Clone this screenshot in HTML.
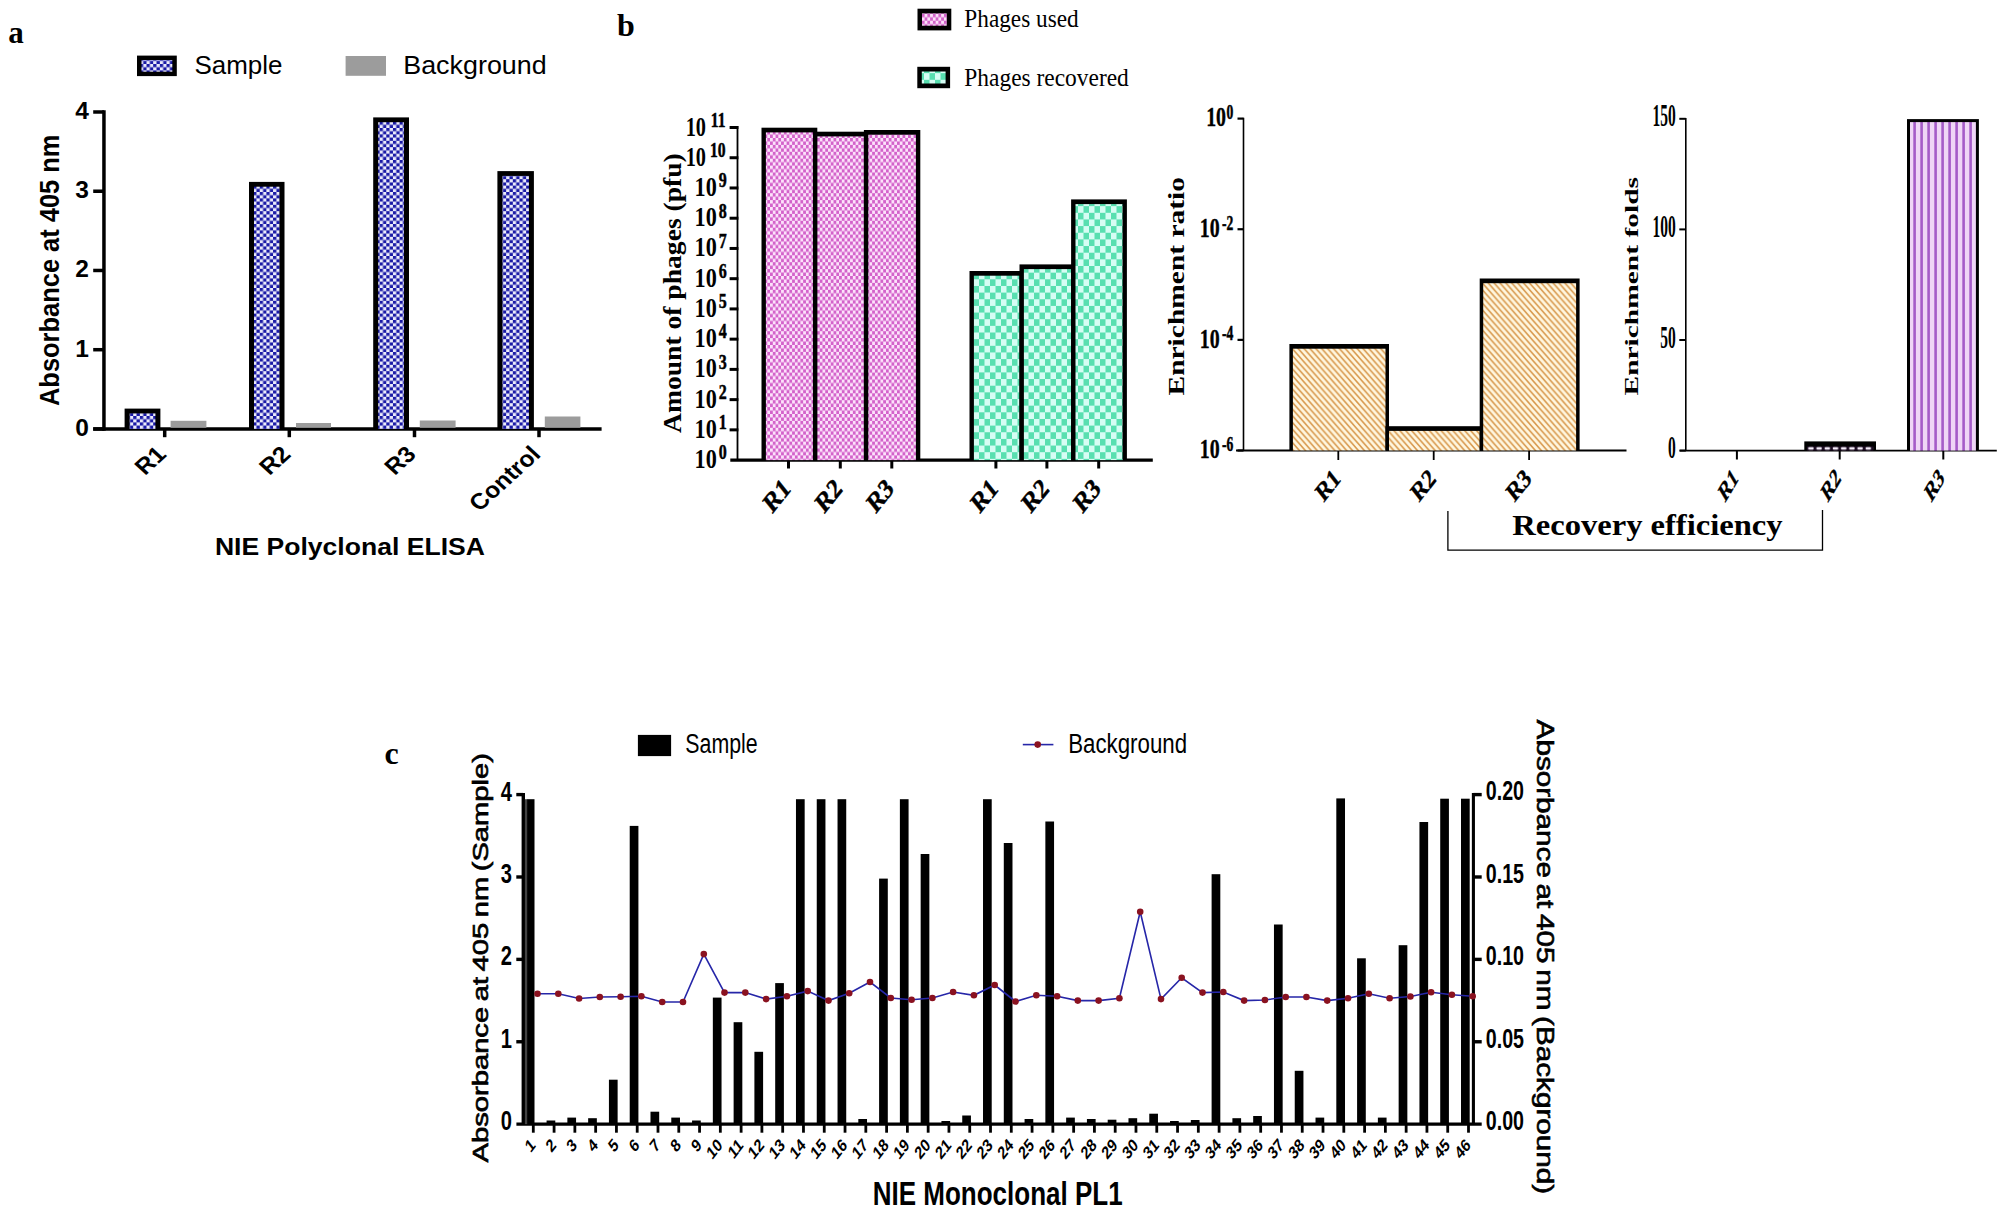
<!DOCTYPE html>
<html lang="en"><head><meta charset="utf-8"><title>Figure</title>
<style>
html,body{margin:0;padding:0;background:#fff;}
body{width:2006px;height:1216px;overflow:hidden;}
svg{display:block;}
text{white-space:pre;}
</style></head><body>
<svg width="2006" height="1216" viewBox="0 0 2006 1216">
<defs>
<pattern id="pblue" width="6.66" height="6.4" patternUnits="userSpaceOnUse">
<rect width="6.66" height="6.4" fill="#ececfb"/>
<rect x="0" y="0" width="3.33" height="3.2" fill="#1a1aa6"/>
<rect x="3.33" y="3.2" width="3.33" height="3.2" fill="#1a1aa6"/>
</pattern>
<pattern id="ppink" width="5.52" height="6.9" patternUnits="userSpaceOnUse">
<rect width="5.52" height="6.9" fill="#fce2fb"/>
<rect x="0" y="0" width="2.76" height="3.45" fill="#d362ca"/>
<rect x="2.76" y="3.45" width="2.76" height="3.45" fill="#d362ca"/>
</pattern>
<pattern id="pgreen" width="11" height="13.3" patternUnits="userSpaceOnUse">
<rect width="11" height="13.3" fill="#d6fdf4"/>
<rect x="0" y="0" width="5.5" height="6.65" fill="#58dfb0"/>
<rect x="5.5" y="6.65" width="5.5" height="6.65" fill="#58dfb0"/>
</pattern>
<pattern id="ptan" width="5.9" height="6.7" patternUnits="userSpaceOnUse">
<rect width="5.9" height="6.7" fill="#fff7e0"/>
<path d="M-5.9,-6.7 L11.8,13.4 M-5.9,0 L5.9,13.4 M0,-6.7 L11.8,6.7" stroke="#d8984c" stroke-width="1.6" fill="none"/>
</pattern>
<pattern id="ppurple" width="7" height="10" patternUnits="userSpaceOnUse">
<rect width="7" height="10" fill="#efd6f6"/>
<rect x="2.3" y="0" width="2.6" height="10" fill="#a55cc8"/>
</pattern>
<pattern id="ppurple2" width="8.2" height="4" patternUnits="userSpaceOnUse" x="1807.5" y="446.4">
<rect width="8.2" height="4" fill="#1a0a20"/>
<rect x="0.6" y="0.8" width="5.6" height="2.4" rx="1.2" fill="#f8effc"/>
</pattern>
</defs>
<rect width="2006" height="1216" fill="#ffffff"/>

<g id="panel-a">
<text transform="translate(8.30,42.60)" font-family='"Liberation Serif", "Times New Roman", serif' font-size="31" font-weight="bold">a</text>
<rect x="137.00" y="55.60" width="39.80" height="20.50" fill="#000"/>
<rect x="141.50" y="60.00" width="30.80" height="11.70" fill="url(#pblue)"/>
<text transform="translate(194.40,73.60)" font-family='"Liberation Sans", Arial, sans-serif' font-size="26" font-weight="normal" textLength="88.0" lengthAdjust="spacingAndGlyphs">Sample</text>
<rect x="345.60" y="56.00" width="40.40" height="19.80" fill="#9c9c9c"/>
<text transform="translate(403.20,73.60)" font-family='"Liberation Sans", Arial, sans-serif' font-size="26" font-weight="normal" textLength="143.5" lengthAdjust="spacingAndGlyphs">Background</text>
<line x1="103.95" y1="110.25" x2="103.95" y2="430.70" stroke="#000" stroke-width="3.5" stroke-linecap="butt"/>
<line x1="93.20" y1="428.95" x2="601.60" y2="428.95" stroke="#000" stroke-width="3.5" stroke-linecap="butt"/>
<line x1="93.20" y1="428.95" x2="103.95" y2="428.95" stroke="#000" stroke-width="3.5" stroke-linecap="butt"/>
<text transform="translate(88.90,435.85)" font-family='"Liberation Sans", Arial, sans-serif' font-size="24.5" font-weight="bold" text-anchor="end">0</text>
<line x1="93.20" y1="349.71" x2="103.95" y2="349.71" stroke="#000" stroke-width="3.5" stroke-linecap="butt"/>
<text transform="translate(88.90,356.61)" font-family='"Liberation Sans", Arial, sans-serif' font-size="24.5" font-weight="bold" text-anchor="end">1</text>
<line x1="93.20" y1="270.47" x2="103.95" y2="270.47" stroke="#000" stroke-width="3.5" stroke-linecap="butt"/>
<text transform="translate(88.90,277.37)" font-family='"Liberation Sans", Arial, sans-serif' font-size="24.5" font-weight="bold" text-anchor="end">2</text>
<line x1="93.20" y1="191.23" x2="103.95" y2="191.23" stroke="#000" stroke-width="3.5" stroke-linecap="butt"/>
<text transform="translate(88.90,198.13)" font-family='"Liberation Sans", Arial, sans-serif' font-size="24.5" font-weight="bold" text-anchor="end">3</text>
<line x1="93.20" y1="111.99" x2="103.95" y2="111.99" stroke="#000" stroke-width="3.5" stroke-linecap="butt"/>
<text transform="translate(88.90,118.89)" font-family='"Liberation Sans", Arial, sans-serif' font-size="24.5" font-weight="bold" text-anchor="end">4</text>
<line x1="164.70" y1="428.95" x2="164.70" y2="437.20" stroke="#000" stroke-width="3.5" stroke-linecap="butt"/>
<line x1="289.30" y1="428.95" x2="289.30" y2="437.20" stroke="#000" stroke-width="3.5" stroke-linecap="butt"/>
<line x1="414.50" y1="428.95" x2="414.50" y2="437.20" stroke="#000" stroke-width="3.5" stroke-linecap="butt"/>
<line x1="539.00" y1="428.95" x2="539.00" y2="437.20" stroke="#000" stroke-width="3.5" stroke-linecap="butt"/>
<text transform="translate(59.40,406.00) rotate(-90)" font-family='"Liberation Sans", Arial, sans-serif' font-size="28" font-weight="bold" textLength="271.5" lengthAdjust="spacingAndGlyphs">Absorbance at 405 nm</text>
<rect x="124.60" y="408.60" width="35.80" height="20.35" fill="#000"/>
<rect x="129.60" y="413.40" width="25.80" height="15.55" fill="url(#pblue)"/>
<rect x="249.00" y="181.90" width="35.50" height="247.05" fill="#000"/>
<rect x="254.00" y="186.70" width="25.50" height="242.25" fill="url(#pblue)"/>
<rect x="373.20" y="117.40" width="35.80" height="311.55" fill="#000"/>
<rect x="378.20" y="122.20" width="25.80" height="306.75" fill="url(#pblue)"/>
<rect x="497.40" y="171.10" width="36.50" height="257.85" fill="#000"/>
<rect x="502.40" y="175.90" width="26.50" height="253.05" fill="url(#pblue)"/>
<rect x="170.60" y="420.80" width="35.80" height="6.95" fill="#9c9c9c"/>
<rect x="296.00" y="423.00" width="35.00" height="4.75" fill="#9c9c9c"/>
<rect x="419.80" y="420.50" width="35.80" height="7.25" fill="#9c9c9c"/>
<rect x="544.80" y="416.50" width="35.60" height="11.25" fill="#9c9c9c"/>
<text transform="translate(167.50,455.60) scale(1.1,1) rotate(-45)" font-family='"Liberation Sans", Arial, sans-serif' font-size="22.6" font-weight="bold" text-anchor="end">R1</text>
<text transform="translate(292.10,455.60) scale(1.1,1) rotate(-45)" font-family='"Liberation Sans", Arial, sans-serif' font-size="22.6" font-weight="bold" text-anchor="end">R2</text>
<text transform="translate(417.30,455.60) scale(1.1,1) rotate(-45)" font-family='"Liberation Sans", Arial, sans-serif' font-size="22.6" font-weight="bold" text-anchor="end">R3</text>
<text transform="translate(541.80,455.60) scale(1.1,1) rotate(-45)" font-family='"Liberation Sans", Arial, sans-serif' font-size="22.6" font-weight="bold" text-anchor="end">Control</text>
<text transform="translate(214.90,555.20)" font-family='"Liberation Sans", Arial, sans-serif' font-size="24.3" font-weight="bold" textLength="270.0" lengthAdjust="spacingAndGlyphs">NIE Polyclonal ELISA</text>
</g>
<g id="panel-b">
<text transform="translate(617.00,35.90)" font-family='"Liberation Serif", "Times New Roman", serif' font-size="32" font-weight="bold">b</text>
<rect x="917.50" y="8.70" width="33.80" height="21.70" fill="#000"/>
<rect x="922.00" y="13.40" width="24.80" height="12.30" fill="url(#ppink)"/>
<rect x="917.30" y="66.80" width="32.80" height="21.40" fill="#000"/>
<rect x="921.80" y="71.50" width="23.80" height="12.00" fill="url(#pgreen)"/>
<text transform="translate(964.30,26.90)" font-family='"Liberation Serif", "Times New Roman", serif' font-size="25.5" font-weight="normal" textLength="114.4" lengthAdjust="spacingAndGlyphs">Phages used</text>
<text transform="translate(964.30,86.00)" font-family='"Liberation Serif", "Times New Roman", serif' font-size="25.5" font-weight="normal" textLength="164.5" lengthAdjust="spacingAndGlyphs">Phages recovered</text>
<line x1="737.50" y1="126.00" x2="737.50" y2="460.10" stroke="#000" stroke-width="1.8" stroke-linecap="butt"/>
<line x1="730.30" y1="460.10" x2="1152.80" y2="460.10" stroke="#000" stroke-width="3.3" stroke-linecap="butt"/>
<text transform="translate(726.70,459.40) scale(0.8,1)" font-family='"Liberation Serif", "Times New Roman", serif' font-size="20" font-weight="bold" text-anchor="end" stroke="#000" stroke-width="0.5">0</text>
<text transform="translate(716.80,468.10) scale(0.81,1)" font-family='"Liberation Serif", "Times New Roman", serif' font-size="27.4" font-weight="bold" text-anchor="end">10</text>
<line x1="729.60" y1="429.86" x2="738.40" y2="429.86" stroke="#000" stroke-width="3.0" stroke-linecap="butt"/>
<text transform="translate(726.70,429.16) scale(0.8,1)" font-family='"Liberation Serif", "Times New Roman", serif' font-size="20" font-weight="bold" text-anchor="end" stroke="#000" stroke-width="0.5">1</text>
<text transform="translate(716.80,437.86) scale(0.81,1)" font-family='"Liberation Serif", "Times New Roman", serif' font-size="27.4" font-weight="bold" text-anchor="end">10</text>
<line x1="729.60" y1="399.63" x2="738.40" y2="399.63" stroke="#000" stroke-width="3.0" stroke-linecap="butt"/>
<text transform="translate(726.70,398.93) scale(0.8,1)" font-family='"Liberation Serif", "Times New Roman", serif' font-size="20" font-weight="bold" text-anchor="end" stroke="#000" stroke-width="0.5">2</text>
<text transform="translate(716.80,407.63) scale(0.81,1)" font-family='"Liberation Serif", "Times New Roman", serif' font-size="27.4" font-weight="bold" text-anchor="end">10</text>
<line x1="729.60" y1="369.39" x2="738.40" y2="369.39" stroke="#000" stroke-width="3.0" stroke-linecap="butt"/>
<text transform="translate(726.70,368.69) scale(0.8,1)" font-family='"Liberation Serif", "Times New Roman", serif' font-size="20" font-weight="bold" text-anchor="end" stroke="#000" stroke-width="0.5">3</text>
<text transform="translate(716.80,377.39) scale(0.81,1)" font-family='"Liberation Serif", "Times New Roman", serif' font-size="27.4" font-weight="bold" text-anchor="end">10</text>
<line x1="729.60" y1="339.15" x2="738.40" y2="339.15" stroke="#000" stroke-width="3.0" stroke-linecap="butt"/>
<text transform="translate(726.70,338.45) scale(0.8,1)" font-family='"Liberation Serif", "Times New Roman", serif' font-size="20" font-weight="bold" text-anchor="end" stroke="#000" stroke-width="0.5">4</text>
<text transform="translate(716.80,347.15) scale(0.81,1)" font-family='"Liberation Serif", "Times New Roman", serif' font-size="27.4" font-weight="bold" text-anchor="end">10</text>
<line x1="729.60" y1="308.92" x2="738.40" y2="308.92" stroke="#000" stroke-width="3.0" stroke-linecap="butt"/>
<text transform="translate(726.70,308.22) scale(0.8,1)" font-family='"Liberation Serif", "Times New Roman", serif' font-size="20" font-weight="bold" text-anchor="end" stroke="#000" stroke-width="0.5">5</text>
<text transform="translate(716.80,316.92) scale(0.81,1)" font-family='"Liberation Serif", "Times New Roman", serif' font-size="27.4" font-weight="bold" text-anchor="end">10</text>
<line x1="729.60" y1="278.68" x2="738.40" y2="278.68" stroke="#000" stroke-width="3.0" stroke-linecap="butt"/>
<text transform="translate(726.70,277.98) scale(0.8,1)" font-family='"Liberation Serif", "Times New Roman", serif' font-size="20" font-weight="bold" text-anchor="end" stroke="#000" stroke-width="0.5">6</text>
<text transform="translate(716.80,286.68) scale(0.81,1)" font-family='"Liberation Serif", "Times New Roman", serif' font-size="27.4" font-weight="bold" text-anchor="end">10</text>
<line x1="729.60" y1="248.45" x2="738.40" y2="248.45" stroke="#000" stroke-width="3.0" stroke-linecap="butt"/>
<text transform="translate(726.70,247.75) scale(0.8,1)" font-family='"Liberation Serif", "Times New Roman", serif' font-size="20" font-weight="bold" text-anchor="end" stroke="#000" stroke-width="0.5">7</text>
<text transform="translate(716.80,256.45) scale(0.81,1)" font-family='"Liberation Serif", "Times New Roman", serif' font-size="27.4" font-weight="bold" text-anchor="end">10</text>
<line x1="729.60" y1="218.21" x2="738.40" y2="218.21" stroke="#000" stroke-width="3.0" stroke-linecap="butt"/>
<text transform="translate(726.70,217.51) scale(0.8,1)" font-family='"Liberation Serif", "Times New Roman", serif' font-size="20" font-weight="bold" text-anchor="end" stroke="#000" stroke-width="0.5">8</text>
<text transform="translate(716.80,226.21) scale(0.81,1)" font-family='"Liberation Serif", "Times New Roman", serif' font-size="27.4" font-weight="bold" text-anchor="end">10</text>
<line x1="729.60" y1="187.97" x2="738.40" y2="187.97" stroke="#000" stroke-width="3.0" stroke-linecap="butt"/>
<text transform="translate(726.70,187.27) scale(0.8,1)" font-family='"Liberation Serif", "Times New Roman", serif' font-size="20" font-weight="bold" text-anchor="end" stroke="#000" stroke-width="0.5">9</text>
<text transform="translate(716.80,195.97) scale(0.81,1)" font-family='"Liberation Serif", "Times New Roman", serif' font-size="27.4" font-weight="bold" text-anchor="end">10</text>
<line x1="729.60" y1="157.74" x2="738.40" y2="157.74" stroke="#000" stroke-width="3.0" stroke-linecap="butt"/>
<text transform="translate(725.50,157.04) scale(0.78,1)" font-family='"Liberation Serif", "Times New Roman", serif' font-size="20" font-weight="bold" text-anchor="end" stroke="#000" stroke-width="0.5">10</text>
<text transform="translate(706.00,165.74) scale(0.74,1)" font-family='"Liberation Serif", "Times New Roman", serif' font-size="27.4" font-weight="bold" text-anchor="end">10</text>
<line x1="729.60" y1="127.50" x2="738.40" y2="127.50" stroke="#000" stroke-width="3.0" stroke-linecap="butt"/>
<text transform="translate(725.50,126.80) scale(0.78,1)" font-family='"Liberation Serif", "Times New Roman", serif' font-size="20" font-weight="bold" text-anchor="end" stroke="#000" stroke-width="0.5">11</text>
<text transform="translate(706.00,135.50) scale(0.74,1)" font-family='"Liberation Serif", "Times New Roman", serif' font-size="27.4" font-weight="bold" text-anchor="end">10</text>
<text transform="translate(681.30,433.00) rotate(-90) scale(1,0.95)" font-family='"Liberation Serif", "Times New Roman", serif' font-size="26.2" font-weight="bold" textLength="279.8" lengthAdjust="spacingAndGlyphs">Amount of phages (pfu)</text>
<line x1="788.50" y1="460.10" x2="788.50" y2="468.50" stroke="#000" stroke-width="3.0" stroke-linecap="butt"/>
<line x1="840.30" y1="460.10" x2="840.30" y2="468.50" stroke="#000" stroke-width="3.0" stroke-linecap="butt"/>
<line x1="891.80" y1="460.10" x2="891.80" y2="468.50" stroke="#000" stroke-width="3.0" stroke-linecap="butt"/>
<line x1="995.90" y1="460.10" x2="995.90" y2="468.50" stroke="#000" stroke-width="3.0" stroke-linecap="butt"/>
<line x1="1046.90" y1="460.10" x2="1046.90" y2="468.50" stroke="#000" stroke-width="3.0" stroke-linecap="butt"/>
<line x1="1098.70" y1="460.10" x2="1098.70" y2="468.50" stroke="#000" stroke-width="3.0" stroke-linecap="butt"/>
<rect x="761.50" y="127.70" width="55.80" height="332.40" fill="#000"/>
<rect x="765.90" y="132.40" width="47.00" height="327.70" fill="url(#ppink)"/>
<rect x="813.00" y="131.70" width="55.30" height="328.40" fill="#000"/>
<rect x="817.40" y="136.40" width="46.50" height="323.70" fill="url(#ppink)"/>
<rect x="863.90" y="130.00" width="56.40" height="330.10" fill="#000"/>
<rect x="868.30" y="134.70" width="47.60" height="325.40" fill="url(#ppink)"/>
<rect x="969.50" y="271.00" width="54.30" height="189.10" fill="#000"/>
<rect x="973.90" y="275.70" width="45.50" height="184.40" fill="url(#pgreen)"/>
<rect x="1019.50" y="264.40" width="56.00" height="195.70" fill="#000"/>
<rect x="1023.90" y="269.10" width="47.20" height="191.00" fill="url(#pgreen)"/>
<rect x="1071.10" y="199.40" width="55.80" height="260.70" fill="#000"/>
<rect x="1075.50" y="204.10" width="47.00" height="256.00" fill="url(#pgreen)"/>
<text transform="translate(791.70,490.00) scale(0.8,1) rotate(-45)" font-family='"Liberation Serif", "Times New Roman", serif' font-size="28" font-weight="bold" text-anchor="end" stroke="#000" stroke-width="0.5">R1</text>
<text transform="translate(843.50,490.00) scale(0.8,1) rotate(-45)" font-family='"Liberation Serif", "Times New Roman", serif' font-size="28" font-weight="bold" text-anchor="end" stroke="#000" stroke-width="0.5">R2</text>
<text transform="translate(895.00,490.00) scale(0.8,1) rotate(-45)" font-family='"Liberation Serif", "Times New Roman", serif' font-size="28" font-weight="bold" text-anchor="end" stroke="#000" stroke-width="0.5">R3</text>
<text transform="translate(999.10,490.00) scale(0.8,1) rotate(-45)" font-family='"Liberation Serif", "Times New Roman", serif' font-size="28" font-weight="bold" text-anchor="end" stroke="#000" stroke-width="0.5">R1</text>
<text transform="translate(1050.10,490.00) scale(0.8,1) rotate(-45)" font-family='"Liberation Serif", "Times New Roman", serif' font-size="28" font-weight="bold" text-anchor="end" stroke="#000" stroke-width="0.5">R2</text>
<text transform="translate(1101.90,490.00) scale(0.8,1) rotate(-45)" font-family='"Liberation Serif", "Times New Roman", serif' font-size="28" font-weight="bold" text-anchor="end" stroke="#000" stroke-width="0.5">R3</text>
<line x1="1243.50" y1="117.80" x2="1243.50" y2="450.50" stroke="#000" stroke-width="1.6" stroke-linecap="butt"/>
<line x1="1236.00" y1="450.50" x2="1626.50" y2="450.50" stroke="#000" stroke-width="2.2" stroke-linecap="butt"/>
<line x1="1237.50" y1="118.60" x2="1243.50" y2="118.60" stroke="#000" stroke-width="2.2" stroke-linecap="butt"/>
<text transform="translate(1233.40,118.90) scale(0.68,1)" font-family='"Liberation Serif", "Times New Roman", serif' font-size="20" font-weight="bold" text-anchor="end" stroke="#000" stroke-width="0.5">0</text>
<text transform="translate(1226.00,126.30) scale(0.71,1)" font-family='"Liberation Serif", "Times New Roman", serif' font-size="28" font-weight="bold" text-anchor="end" stroke="#000" stroke-width="0.4">10</text>
<line x1="1237.50" y1="229.23" x2="1243.50" y2="229.23" stroke="#000" stroke-width="2.2" stroke-linecap="butt"/>
<text transform="translate(1233.40,229.53) scale(0.68,1)" font-family='"Liberation Serif", "Times New Roman", serif' font-size="20" font-weight="bold" text-anchor="end" stroke="#000" stroke-width="0.5">-2</text>
<text transform="translate(1219.60,236.93) scale(0.71,1)" font-family='"Liberation Serif", "Times New Roman", serif' font-size="28" font-weight="bold" text-anchor="end" stroke="#000" stroke-width="0.4">10</text>
<line x1="1237.50" y1="339.87" x2="1243.50" y2="339.87" stroke="#000" stroke-width="2.2" stroke-linecap="butt"/>
<text transform="translate(1233.40,340.17) scale(0.68,1)" font-family='"Liberation Serif", "Times New Roman", serif' font-size="20" font-weight="bold" text-anchor="end" stroke="#000" stroke-width="0.5">-4</text>
<text transform="translate(1219.60,347.57) scale(0.71,1)" font-family='"Liberation Serif", "Times New Roman", serif' font-size="28" font-weight="bold" text-anchor="end" stroke="#000" stroke-width="0.4">10</text>
<line x1="1237.50" y1="450.50" x2="1243.50" y2="450.50" stroke="#000" stroke-width="2.2" stroke-linecap="butt"/>
<text transform="translate(1233.40,450.80) scale(0.68,1)" font-family='"Liberation Serif", "Times New Roman", serif' font-size="20" font-weight="bold" text-anchor="end" stroke="#000" stroke-width="0.5">-6</text>
<text transform="translate(1219.60,458.20) scale(0.71,1)" font-family='"Liberation Serif", "Times New Roman", serif' font-size="28" font-weight="bold" text-anchor="end" stroke="#000" stroke-width="0.4">10</text>
<line x1="1338.30" y1="450.50" x2="1338.30" y2="460.00" stroke="#000" stroke-width="1.8" stroke-linecap="butt"/>
<line x1="1433.70" y1="450.50" x2="1433.70" y2="460.00" stroke="#000" stroke-width="1.8" stroke-linecap="butt"/>
<line x1="1529.10" y1="450.50" x2="1529.10" y2="460.00" stroke="#000" stroke-width="1.8" stroke-linecap="butt"/>
<rect x="1289.40" y="344.00" width="99.60" height="106.50" fill="#000"/>
<rect x="1292.90" y="348.70" width="92.60" height="101.80" fill="url(#ptan)"/>
<rect x="1385.50" y="426.20" width="97.70" height="24.30" fill="#000"/>
<rect x="1389.00" y="430.90" width="90.70" height="19.60" fill="url(#ptan)"/>
<rect x="1479.70" y="278.50" width="99.90" height="172.00" fill="#000"/>
<rect x="1483.20" y="283.20" width="92.90" height="167.30" fill="url(#ptan)"/>
<text transform="translate(1183.60,395.50) rotate(-90) scale(1,0.8)" font-family='"Liberation Serif", "Times New Roman", serif' font-size="29.5" font-weight="bold" textLength="218.5" lengthAdjust="spacingAndGlyphs">Enrichment ratio</text>
<text transform="translate(1341.70,480.00) scale(0.78,1) rotate(-45)" font-family='"Liberation Serif", "Times New Roman", serif' font-size="26.7" font-weight="bold" text-anchor="end" stroke="#000" stroke-width="0.4">R1</text>
<text transform="translate(1437.10,480.00) scale(0.78,1) rotate(-45)" font-family='"Liberation Serif", "Times New Roman", serif' font-size="26.7" font-weight="bold" text-anchor="end" stroke="#000" stroke-width="0.4">R2</text>
<text transform="translate(1532.50,480.00) scale(0.78,1) rotate(-45)" font-family='"Liberation Serif", "Times New Roman", serif' font-size="26.7" font-weight="bold" text-anchor="end" stroke="#000" stroke-width="0.4">R3</text>
<line x1="1685.80" y1="118.00" x2="1685.80" y2="450.60" stroke="#000" stroke-width="1.6" stroke-linecap="butt"/>
<line x1="1680.00" y1="450.60" x2="1996.80" y2="450.60" stroke="#000" stroke-width="1.8" stroke-linecap="butt"/>
<line x1="1679.30" y1="118.80" x2="1685.80" y2="118.80" stroke="#000" stroke-width="2.0" stroke-linecap="butt"/>
<text transform="translate(1675.80,126.40) scale(0.5,1)" font-family='"Liberation Serif", "Times New Roman", serif' font-size="31" font-weight="bold" text-anchor="end">150</text>
<line x1="1679.30" y1="229.40" x2="1685.80" y2="229.40" stroke="#000" stroke-width="2.0" stroke-linecap="butt"/>
<text transform="translate(1675.80,237.00) scale(0.5,1)" font-family='"Liberation Serif", "Times New Roman", serif' font-size="31" font-weight="bold" text-anchor="end">100</text>
<line x1="1679.30" y1="340.00" x2="1685.80" y2="340.00" stroke="#000" stroke-width="2.0" stroke-linecap="butt"/>
<text transform="translate(1675.80,347.60) scale(0.5,1)" font-family='"Liberation Serif", "Times New Roman", serif' font-size="31" font-weight="bold" text-anchor="end">50</text>
<line x1="1679.30" y1="450.60" x2="1685.80" y2="450.60" stroke="#000" stroke-width="2.0" stroke-linecap="butt"/>
<text transform="translate(1675.80,458.20) scale(0.5,1)" font-family='"Liberation Serif", "Times New Roman", serif' font-size="31" font-weight="bold" text-anchor="end">0</text>
<line x1="1736.90" y1="450.60" x2="1736.90" y2="459.50" stroke="#000" stroke-width="2.0" stroke-linecap="butt"/>
<line x1="1839.70" y1="450.60" x2="1839.70" y2="459.50" stroke="#000" stroke-width="2.0" stroke-linecap="butt"/>
<line x1="1943.30" y1="450.60" x2="1943.30" y2="459.50" stroke="#000" stroke-width="2.0" stroke-linecap="butt"/>
<rect x="1804.30" y="441.40" width="71.70" height="9.20" fill="#000"/>
<rect x="1806.90" y="446.40" width="66.50" height="4.20" fill="url(#ppurple2)"/>
<rect x="1907.00" y="119.10" width="71.90" height="331.50" fill="#000"/>
<rect x="1910.00" y="122.10" width="65.90" height="328.50" fill="url(#ppurple)"/>
<text transform="translate(1638.40,395.50) rotate(-90) scale(1,0.65)" font-family='"Liberation Serif", "Times New Roman", serif' font-size="29.5" font-weight="bold" textLength="218.5" lengthAdjust="spacingAndGlyphs">Enrichment folds</text>
<text transform="translate(1738.90,479.50) scale(0.59,1) rotate(-45)" font-family='"Liberation Serif", "Times New Roman", serif' font-size="27.5" font-weight="bold" text-anchor="end" stroke="#000" stroke-width="0.4">R1</text>
<text transform="translate(1841.70,479.50) scale(0.59,1) rotate(-45)" font-family='"Liberation Serif", "Times New Roman", serif' font-size="27.5" font-weight="bold" text-anchor="end" stroke="#000" stroke-width="0.4">R2</text>
<text transform="translate(1945.30,479.50) scale(0.59,1) rotate(-45)" font-family='"Liberation Serif", "Times New Roman", serif' font-size="27.5" font-weight="bold" text-anchor="end" stroke="#000" stroke-width="0.4">R3</text>
<path d="M1447.9,511 V550.2 H1822.5 V510" fill="none" stroke="#000" stroke-width="1.3"/>
<text transform="translate(1512.20,534.70)" font-family='"Liberation Serif", "Times New Roman", serif' font-size="30" font-weight="bold" textLength="270.4" lengthAdjust="spacingAndGlyphs">Recovery efficiency</text>
</g>
<g id="panel-c">
<text transform="translate(384.50,763.60)" font-family='"Liberation Serif", "Times New Roman", serif' font-size="32" font-weight="bold">c</text>
<rect x="637.90" y="734.90" width="33.20" height="21.20" fill="#000"/>
<text transform="translate(685.30,752.80)" font-family='"Liberation Sans", Arial, sans-serif' font-size="26.8" font-weight="normal" textLength="72.3" lengthAdjust="spacingAndGlyphs">Sample</text>
<line x1="1022.80" y1="744.60" x2="1053.40" y2="744.60" stroke="#2626a8" stroke-width="1.6" stroke-linecap="butt"/>
<circle cx="1037.7" cy="744.6" r="3.3" fill="#8a1220"/>
<text transform="translate(1068.20,753.00)" font-family='"Liberation Sans", Arial, sans-serif' font-size="27" font-weight="normal" textLength="118.9" lengthAdjust="spacingAndGlyphs">Background</text>
<line x1="523.30" y1="792.90" x2="523.30" y2="1124.15" stroke="#000" stroke-width="3.4" stroke-linecap="butt"/>
<line x1="1473.40" y1="792.90" x2="1473.40" y2="1124.15" stroke="#000" stroke-width="3.1" stroke-linecap="butt"/>
<line x1="516.40" y1="1124.15" x2="1481.70" y2="1124.15" stroke="#000" stroke-width="3.2" stroke-linecap="butt"/>
<text transform="translate(512.00,1130.25) scale(0.73,1)" font-family='"Liberation Sans", Arial, sans-serif' font-size="27.6" font-weight="bold" text-anchor="end">0</text>
<text transform="translate(1485.80,1129.95)" font-family='"Liberation Sans", Arial, sans-serif' font-size="27.4" font-weight="bold" textLength="38.2" lengthAdjust="spacingAndGlyphs">0.00</text>
<line x1="516.30" y1="1041.76" x2="523.30" y2="1041.76" stroke="#000" stroke-width="3.4" stroke-linecap="butt"/>
<line x1="1473.40" y1="1041.76" x2="1481.70" y2="1041.76" stroke="#000" stroke-width="3.4" stroke-linecap="butt"/>
<text transform="translate(512.00,1047.86) scale(0.73,1)" font-family='"Liberation Sans", Arial, sans-serif' font-size="27.6" font-weight="bold" text-anchor="end">1</text>
<text transform="translate(1485.80,1047.56)" font-family='"Liberation Sans", Arial, sans-serif' font-size="27.4" font-weight="bold" textLength="38.2" lengthAdjust="spacingAndGlyphs">0.05</text>
<line x1="516.30" y1="959.38" x2="523.30" y2="959.38" stroke="#000" stroke-width="3.4" stroke-linecap="butt"/>
<line x1="1473.40" y1="959.38" x2="1481.70" y2="959.38" stroke="#000" stroke-width="3.4" stroke-linecap="butt"/>
<text transform="translate(512.00,965.48) scale(0.73,1)" font-family='"Liberation Sans", Arial, sans-serif' font-size="27.6" font-weight="bold" text-anchor="end">2</text>
<text transform="translate(1485.80,965.17)" font-family='"Liberation Sans", Arial, sans-serif' font-size="27.4" font-weight="bold" textLength="38.2" lengthAdjust="spacingAndGlyphs">0.10</text>
<line x1="516.30" y1="876.99" x2="523.30" y2="876.99" stroke="#000" stroke-width="3.4" stroke-linecap="butt"/>
<line x1="1473.40" y1="876.99" x2="1481.70" y2="876.99" stroke="#000" stroke-width="3.4" stroke-linecap="butt"/>
<text transform="translate(512.00,883.09) scale(0.73,1)" font-family='"Liberation Sans", Arial, sans-serif' font-size="27.6" font-weight="bold" text-anchor="end">3</text>
<text transform="translate(1485.80,882.79)" font-family='"Liberation Sans", Arial, sans-serif' font-size="27.4" font-weight="bold" textLength="38.2" lengthAdjust="spacingAndGlyphs">0.15</text>
<line x1="516.30" y1="794.60" x2="523.30" y2="794.60" stroke="#000" stroke-width="3.4" stroke-linecap="butt"/>
<line x1="1473.40" y1="794.60" x2="1481.70" y2="794.60" stroke="#000" stroke-width="3.4" stroke-linecap="butt"/>
<text transform="translate(512.00,800.70) scale(0.73,1)" font-family='"Liberation Sans", Arial, sans-serif' font-size="27.6" font-weight="bold" text-anchor="end">4</text>
<text transform="translate(1485.80,800.40)" font-family='"Liberation Sans", Arial, sans-serif' font-size="27.4" font-weight="bold" textLength="38.2" lengthAdjust="spacingAndGlyphs">0.20</text>
<line x1="533.30" y1="1124.15" x2="533.30" y2="1132.70" stroke="#000" stroke-width="2.8" stroke-linecap="butt"/>
<rect x="527.00" y="799.20" width="7.50" height="324.95" fill="#000"/>
<line x1="554.08" y1="1124.15" x2="554.08" y2="1132.70" stroke="#000" stroke-width="2.8" stroke-linecap="butt"/>
<rect x="546.58" y="1120.50" width="8.70" height="3.65" fill="#000"/>
<line x1="574.86" y1="1124.15" x2="574.86" y2="1132.70" stroke="#000" stroke-width="2.8" stroke-linecap="butt"/>
<rect x="567.36" y="1117.60" width="8.70" height="6.55" fill="#000"/>
<line x1="595.65" y1="1124.15" x2="595.65" y2="1132.70" stroke="#000" stroke-width="2.8" stroke-linecap="butt"/>
<rect x="588.15" y="1118.20" width="8.70" height="5.95" fill="#000"/>
<line x1="616.43" y1="1124.15" x2="616.43" y2="1132.70" stroke="#000" stroke-width="2.8" stroke-linecap="butt"/>
<rect x="608.93" y="1079.70" width="8.70" height="44.45" fill="#000"/>
<line x1="637.21" y1="1124.15" x2="637.21" y2="1132.70" stroke="#000" stroke-width="2.8" stroke-linecap="butt"/>
<rect x="629.71" y="825.90" width="8.70" height="298.25" fill="#000"/>
<line x1="657.99" y1="1124.15" x2="657.99" y2="1132.70" stroke="#000" stroke-width="2.8" stroke-linecap="butt"/>
<rect x="650.49" y="1111.70" width="8.70" height="12.45" fill="#000"/>
<line x1="678.78" y1="1124.15" x2="678.78" y2="1132.70" stroke="#000" stroke-width="2.8" stroke-linecap="butt"/>
<rect x="671.28" y="1117.60" width="8.70" height="6.55" fill="#000"/>
<line x1="699.56" y1="1124.15" x2="699.56" y2="1132.70" stroke="#000" stroke-width="2.8" stroke-linecap="butt"/>
<rect x="692.06" y="1120.50" width="8.70" height="3.65" fill="#000"/>
<line x1="720.34" y1="1124.15" x2="720.34" y2="1132.70" stroke="#000" stroke-width="2.8" stroke-linecap="butt"/>
<rect x="712.84" y="997.60" width="8.70" height="126.55" fill="#000"/>
<line x1="741.12" y1="1124.15" x2="741.12" y2="1132.70" stroke="#000" stroke-width="2.8" stroke-linecap="butt"/>
<rect x="733.62" y="1022.20" width="8.70" height="101.95" fill="#000"/>
<line x1="761.90" y1="1124.15" x2="761.90" y2="1132.70" stroke="#000" stroke-width="2.8" stroke-linecap="butt"/>
<rect x="754.40" y="1051.80" width="8.70" height="72.35" fill="#000"/>
<line x1="782.69" y1="1124.15" x2="782.69" y2="1132.70" stroke="#000" stroke-width="2.8" stroke-linecap="butt"/>
<rect x="775.19" y="983.10" width="8.70" height="141.05" fill="#000"/>
<line x1="803.47" y1="1124.15" x2="803.47" y2="1132.70" stroke="#000" stroke-width="2.8" stroke-linecap="butt"/>
<rect x="795.97" y="799.20" width="8.70" height="324.95" fill="#000"/>
<line x1="824.25" y1="1124.15" x2="824.25" y2="1132.70" stroke="#000" stroke-width="2.8" stroke-linecap="butt"/>
<rect x="816.75" y="799.20" width="8.70" height="324.95" fill="#000"/>
<line x1="845.03" y1="1124.15" x2="845.03" y2="1132.70" stroke="#000" stroke-width="2.8" stroke-linecap="butt"/>
<rect x="837.53" y="799.20" width="8.70" height="324.95" fill="#000"/>
<line x1="865.82" y1="1124.15" x2="865.82" y2="1132.70" stroke="#000" stroke-width="2.8" stroke-linecap="butt"/>
<rect x="858.32" y="1119.00" width="8.70" height="5.15" fill="#000"/>
<line x1="886.60" y1="1124.15" x2="886.60" y2="1132.70" stroke="#000" stroke-width="2.8" stroke-linecap="butt"/>
<rect x="879.10" y="878.60" width="8.70" height="245.55" fill="#000"/>
<line x1="907.38" y1="1124.15" x2="907.38" y2="1132.70" stroke="#000" stroke-width="2.8" stroke-linecap="butt"/>
<rect x="899.88" y="799.20" width="8.70" height="324.95" fill="#000"/>
<line x1="928.16" y1="1124.15" x2="928.16" y2="1132.70" stroke="#000" stroke-width="2.8" stroke-linecap="butt"/>
<rect x="920.66" y="854.00" width="8.70" height="270.15" fill="#000"/>
<line x1="948.94" y1="1124.15" x2="948.94" y2="1132.70" stroke="#000" stroke-width="2.8" stroke-linecap="butt"/>
<rect x="941.44" y="1121.00" width="8.70" height="3.15" fill="#000"/>
<line x1="969.73" y1="1124.15" x2="969.73" y2="1132.70" stroke="#000" stroke-width="2.8" stroke-linecap="butt"/>
<rect x="962.23" y="1115.50" width="8.70" height="8.65" fill="#000"/>
<line x1="990.51" y1="1124.15" x2="990.51" y2="1132.70" stroke="#000" stroke-width="2.8" stroke-linecap="butt"/>
<rect x="983.01" y="799.20" width="8.70" height="324.95" fill="#000"/>
<line x1="1011.29" y1="1124.15" x2="1011.29" y2="1132.70" stroke="#000" stroke-width="2.8" stroke-linecap="butt"/>
<rect x="1003.79" y="843.00" width="8.70" height="281.15" fill="#000"/>
<line x1="1032.07" y1="1124.15" x2="1032.07" y2="1132.70" stroke="#000" stroke-width="2.8" stroke-linecap="butt"/>
<rect x="1024.57" y="1119.00" width="8.70" height="5.15" fill="#000"/>
<line x1="1052.86" y1="1124.15" x2="1052.86" y2="1132.70" stroke="#000" stroke-width="2.8" stroke-linecap="butt"/>
<rect x="1045.36" y="821.50" width="8.70" height="302.65" fill="#000"/>
<line x1="1073.64" y1="1124.15" x2="1073.64" y2="1132.70" stroke="#000" stroke-width="2.8" stroke-linecap="butt"/>
<rect x="1066.14" y="1117.60" width="8.70" height="6.55" fill="#000"/>
<line x1="1094.42" y1="1124.15" x2="1094.42" y2="1132.70" stroke="#000" stroke-width="2.8" stroke-linecap="butt"/>
<rect x="1086.92" y="1119.00" width="8.70" height="5.15" fill="#000"/>
<line x1="1115.20" y1="1124.15" x2="1115.20" y2="1132.70" stroke="#000" stroke-width="2.8" stroke-linecap="butt"/>
<rect x="1107.70" y="1119.70" width="8.70" height="4.45" fill="#000"/>
<line x1="1135.98" y1="1124.15" x2="1135.98" y2="1132.70" stroke="#000" stroke-width="2.8" stroke-linecap="butt"/>
<rect x="1128.48" y="1118.20" width="8.70" height="5.95" fill="#000"/>
<line x1="1156.77" y1="1124.15" x2="1156.77" y2="1132.70" stroke="#000" stroke-width="2.8" stroke-linecap="butt"/>
<rect x="1149.27" y="1113.70" width="8.70" height="10.45" fill="#000"/>
<line x1="1177.55" y1="1124.15" x2="1177.55" y2="1132.70" stroke="#000" stroke-width="2.8" stroke-linecap="butt"/>
<rect x="1170.05" y="1121.00" width="8.70" height="3.15" fill="#000"/>
<line x1="1198.33" y1="1124.15" x2="1198.33" y2="1132.70" stroke="#000" stroke-width="2.8" stroke-linecap="butt"/>
<rect x="1190.83" y="1120.00" width="8.70" height="4.15" fill="#000"/>
<line x1="1219.11" y1="1124.15" x2="1219.11" y2="1132.70" stroke="#000" stroke-width="2.8" stroke-linecap="butt"/>
<rect x="1211.61" y="874.20" width="8.70" height="249.95" fill="#000"/>
<line x1="1239.90" y1="1124.15" x2="1239.90" y2="1132.70" stroke="#000" stroke-width="2.8" stroke-linecap="butt"/>
<rect x="1232.40" y="1118.20" width="8.70" height="5.95" fill="#000"/>
<line x1="1260.68" y1="1124.15" x2="1260.68" y2="1132.70" stroke="#000" stroke-width="2.8" stroke-linecap="butt"/>
<rect x="1253.18" y="1116.00" width="8.70" height="8.15" fill="#000"/>
<line x1="1281.46" y1="1124.15" x2="1281.46" y2="1132.70" stroke="#000" stroke-width="2.8" stroke-linecap="butt"/>
<rect x="1273.96" y="924.50" width="8.70" height="199.65" fill="#000"/>
<line x1="1302.24" y1="1124.15" x2="1302.24" y2="1132.70" stroke="#000" stroke-width="2.8" stroke-linecap="butt"/>
<rect x="1294.74" y="1070.80" width="8.70" height="53.35" fill="#000"/>
<line x1="1323.02" y1="1124.15" x2="1323.02" y2="1132.70" stroke="#000" stroke-width="2.8" stroke-linecap="butt"/>
<rect x="1315.52" y="1117.60" width="8.70" height="6.55" fill="#000"/>
<line x1="1343.81" y1="1124.15" x2="1343.81" y2="1132.70" stroke="#000" stroke-width="2.8" stroke-linecap="butt"/>
<rect x="1336.31" y="798.40" width="8.70" height="325.75" fill="#000"/>
<line x1="1364.59" y1="1124.15" x2="1364.59" y2="1132.70" stroke="#000" stroke-width="2.8" stroke-linecap="butt"/>
<rect x="1357.09" y="958.30" width="8.70" height="165.85" fill="#000"/>
<line x1="1385.37" y1="1124.15" x2="1385.37" y2="1132.70" stroke="#000" stroke-width="2.8" stroke-linecap="butt"/>
<rect x="1377.87" y="1117.60" width="8.70" height="6.55" fill="#000"/>
<line x1="1406.15" y1="1124.15" x2="1406.15" y2="1132.70" stroke="#000" stroke-width="2.8" stroke-linecap="butt"/>
<rect x="1398.65" y="945.20" width="8.70" height="178.95" fill="#000"/>
<line x1="1426.94" y1="1124.15" x2="1426.94" y2="1132.70" stroke="#000" stroke-width="2.8" stroke-linecap="butt"/>
<rect x="1419.44" y="822.00" width="8.70" height="302.15" fill="#000"/>
<line x1="1447.72" y1="1124.15" x2="1447.72" y2="1132.70" stroke="#000" stroke-width="2.8" stroke-linecap="butt"/>
<rect x="1440.22" y="798.70" width="8.70" height="325.45" fill="#000"/>
<line x1="1468.50" y1="1124.15" x2="1468.50" y2="1132.70" stroke="#000" stroke-width="2.8" stroke-linecap="butt"/>
<rect x="1461.00" y="798.70" width="8.70" height="325.45" fill="#000"/>
<rect x="524.90" y="799.20" width="2.30" height="324.95" fill="#444"/>
<polyline points="537.5,993.8 558.3,993.8 579.1,998.5 599.8,997.0 620.6,996.8 641.4,996.2 662.2,1002.0 683.0,1002.0 703.8,954.1 724.5,992.6 745.3,992.6 766.1,999.1 786.9,996.2 807.7,991.1 828.5,1000.6 849.2,993.2 870.0,982.0 890.8,998.0 911.6,999.7 932.4,998.0 953.1,992.0 973.9,995.3 994.7,985.0 1015.5,1001.5 1036.3,995.3 1057.1,996.2 1077.8,1000.6 1098.6,1000.6 1119.4,998.2 1140.2,911.8 1161.0,999.1 1181.7,977.8 1202.5,992.6 1223.3,992.0 1244.1,1000.6 1264.9,1000.0 1285.7,997.0 1306.4,997.0 1327.2,1000.6 1348.0,998.2 1368.8,993.8 1389.6,998.2 1410.4,996.5 1431.1,992.3 1451.9,994.7 1472.7,996.2" fill="none" stroke="#2626a8" stroke-width="1.6"/>
<circle cx="537.5" cy="993.8" r="3.3" fill="#8a1220"/>
<circle cx="558.3" cy="993.8" r="3.3" fill="#8a1220"/>
<circle cx="579.1" cy="998.5" r="3.3" fill="#8a1220"/>
<circle cx="599.8" cy="997.0" r="3.3" fill="#8a1220"/>
<circle cx="620.6" cy="996.8" r="3.3" fill="#8a1220"/>
<circle cx="641.4" cy="996.2" r="3.3" fill="#8a1220"/>
<circle cx="662.2" cy="1002.0" r="3.3" fill="#8a1220"/>
<circle cx="683.0" cy="1002.0" r="3.3" fill="#8a1220"/>
<circle cx="703.8" cy="954.1" r="3.3" fill="#8a1220"/>
<circle cx="724.5" cy="992.6" r="3.3" fill="#8a1220"/>
<circle cx="745.3" cy="992.6" r="3.3" fill="#8a1220"/>
<circle cx="766.1" cy="999.1" r="3.3" fill="#8a1220"/>
<circle cx="786.9" cy="996.2" r="3.3" fill="#8a1220"/>
<circle cx="807.7" cy="991.1" r="3.3" fill="#8a1220"/>
<circle cx="828.5" cy="1000.6" r="3.3" fill="#8a1220"/>
<circle cx="849.2" cy="993.2" r="3.3" fill="#8a1220"/>
<circle cx="870.0" cy="982.0" r="3.3" fill="#8a1220"/>
<circle cx="890.8" cy="998.0" r="3.3" fill="#8a1220"/>
<circle cx="911.6" cy="999.7" r="3.3" fill="#8a1220"/>
<circle cx="932.4" cy="998.0" r="3.3" fill="#8a1220"/>
<circle cx="953.1" cy="992.0" r="3.3" fill="#8a1220"/>
<circle cx="973.9" cy="995.3" r="3.3" fill="#8a1220"/>
<circle cx="994.7" cy="985.0" r="3.3" fill="#8a1220"/>
<circle cx="1015.5" cy="1001.5" r="3.3" fill="#8a1220"/>
<circle cx="1036.3" cy="995.3" r="3.3" fill="#8a1220"/>
<circle cx="1057.1" cy="996.2" r="3.3" fill="#8a1220"/>
<circle cx="1077.8" cy="1000.6" r="3.3" fill="#8a1220"/>
<circle cx="1098.6" cy="1000.6" r="3.3" fill="#8a1220"/>
<circle cx="1119.4" cy="998.2" r="3.3" fill="#8a1220"/>
<circle cx="1140.2" cy="911.8" r="3.3" fill="#8a1220"/>
<circle cx="1161.0" cy="999.1" r="3.3" fill="#8a1220"/>
<circle cx="1181.7" cy="977.8" r="3.3" fill="#8a1220"/>
<circle cx="1202.5" cy="992.6" r="3.3" fill="#8a1220"/>
<circle cx="1223.3" cy="992.0" r="3.3" fill="#8a1220"/>
<circle cx="1244.1" cy="1000.6" r="3.3" fill="#8a1220"/>
<circle cx="1264.9" cy="1000.0" r="3.3" fill="#8a1220"/>
<circle cx="1285.7" cy="997.0" r="3.3" fill="#8a1220"/>
<circle cx="1306.4" cy="997.0" r="3.3" fill="#8a1220"/>
<circle cx="1327.2" cy="1000.6" r="3.3" fill="#8a1220"/>
<circle cx="1348.0" cy="998.2" r="3.3" fill="#8a1220"/>
<circle cx="1368.8" cy="993.8" r="3.3" fill="#8a1220"/>
<circle cx="1389.6" cy="998.2" r="3.3" fill="#8a1220"/>
<circle cx="1410.4" cy="996.5" r="3.3" fill="#8a1220"/>
<circle cx="1431.1" cy="992.3" r="3.3" fill="#8a1220"/>
<circle cx="1451.9" cy="994.7" r="3.3" fill="#8a1220"/>
<circle cx="1472.7" cy="996.2" r="3.3" fill="#8a1220"/>
<text transform="translate(536.30,1146.20) scale(0.78,1) rotate(-45)" font-family='"Liberation Sans", Arial, sans-serif' font-size="18" font-weight="bold" text-anchor="end">1</text>
<text transform="translate(557.08,1146.20) scale(0.78,1) rotate(-45)" font-family='"Liberation Sans", Arial, sans-serif' font-size="18" font-weight="bold" text-anchor="end">2</text>
<text transform="translate(577.86,1146.20) scale(0.78,1) rotate(-45)" font-family='"Liberation Sans", Arial, sans-serif' font-size="18" font-weight="bold" text-anchor="end">3</text>
<text transform="translate(598.65,1146.20) scale(0.78,1) rotate(-45)" font-family='"Liberation Sans", Arial, sans-serif' font-size="18" font-weight="bold" text-anchor="end">4</text>
<text transform="translate(619.43,1146.20) scale(0.78,1) rotate(-45)" font-family='"Liberation Sans", Arial, sans-serif' font-size="18" font-weight="bold" text-anchor="end">5</text>
<text transform="translate(640.21,1146.20) scale(0.78,1) rotate(-45)" font-family='"Liberation Sans", Arial, sans-serif' font-size="18" font-weight="bold" text-anchor="end">6</text>
<text transform="translate(660.99,1146.20) scale(0.78,1) rotate(-45)" font-family='"Liberation Sans", Arial, sans-serif' font-size="18" font-weight="bold" text-anchor="end">7</text>
<text transform="translate(681.78,1146.20) scale(0.78,1) rotate(-45)" font-family='"Liberation Sans", Arial, sans-serif' font-size="18" font-weight="bold" text-anchor="end">8</text>
<text transform="translate(702.56,1146.20) scale(0.78,1) rotate(-45)" font-family='"Liberation Sans", Arial, sans-serif' font-size="18" font-weight="bold" text-anchor="end">9</text>
<text transform="translate(723.34,1146.20) scale(0.78,1) rotate(-45)" font-family='"Liberation Sans", Arial, sans-serif' font-size="18" font-weight="bold" text-anchor="end">10</text>
<text transform="translate(744.12,1146.20) scale(0.78,1) rotate(-45)" font-family='"Liberation Sans", Arial, sans-serif' font-size="18" font-weight="bold" text-anchor="end">11</text>
<text transform="translate(764.90,1146.20) scale(0.78,1) rotate(-45)" font-family='"Liberation Sans", Arial, sans-serif' font-size="18" font-weight="bold" text-anchor="end">12</text>
<text transform="translate(785.69,1146.20) scale(0.78,1) rotate(-45)" font-family='"Liberation Sans", Arial, sans-serif' font-size="18" font-weight="bold" text-anchor="end">13</text>
<text transform="translate(806.47,1146.20) scale(0.78,1) rotate(-45)" font-family='"Liberation Sans", Arial, sans-serif' font-size="18" font-weight="bold" text-anchor="end">14</text>
<text transform="translate(827.25,1146.20) scale(0.78,1) rotate(-45)" font-family='"Liberation Sans", Arial, sans-serif' font-size="18" font-weight="bold" text-anchor="end">15</text>
<text transform="translate(848.03,1146.20) scale(0.78,1) rotate(-45)" font-family='"Liberation Sans", Arial, sans-serif' font-size="18" font-weight="bold" text-anchor="end">16</text>
<text transform="translate(868.82,1146.20) scale(0.78,1) rotate(-45)" font-family='"Liberation Sans", Arial, sans-serif' font-size="18" font-weight="bold" text-anchor="end">17</text>
<text transform="translate(889.60,1146.20) scale(0.78,1) rotate(-45)" font-family='"Liberation Sans", Arial, sans-serif' font-size="18" font-weight="bold" text-anchor="end">18</text>
<text transform="translate(910.38,1146.20) scale(0.78,1) rotate(-45)" font-family='"Liberation Sans", Arial, sans-serif' font-size="18" font-weight="bold" text-anchor="end">19</text>
<text transform="translate(931.16,1146.20) scale(0.78,1) rotate(-45)" font-family='"Liberation Sans", Arial, sans-serif' font-size="18" font-weight="bold" text-anchor="end">20</text>
<text transform="translate(951.94,1146.20) scale(0.78,1) rotate(-45)" font-family='"Liberation Sans", Arial, sans-serif' font-size="18" font-weight="bold" text-anchor="end">21</text>
<text transform="translate(972.73,1146.20) scale(0.78,1) rotate(-45)" font-family='"Liberation Sans", Arial, sans-serif' font-size="18" font-weight="bold" text-anchor="end">22</text>
<text transform="translate(993.51,1146.20) scale(0.78,1) rotate(-45)" font-family='"Liberation Sans", Arial, sans-serif' font-size="18" font-weight="bold" text-anchor="end">23</text>
<text transform="translate(1014.29,1146.20) scale(0.78,1) rotate(-45)" font-family='"Liberation Sans", Arial, sans-serif' font-size="18" font-weight="bold" text-anchor="end">24</text>
<text transform="translate(1035.07,1146.20) scale(0.78,1) rotate(-45)" font-family='"Liberation Sans", Arial, sans-serif' font-size="18" font-weight="bold" text-anchor="end">25</text>
<text transform="translate(1055.86,1146.20) scale(0.78,1) rotate(-45)" font-family='"Liberation Sans", Arial, sans-serif' font-size="18" font-weight="bold" text-anchor="end">26</text>
<text transform="translate(1076.64,1146.20) scale(0.78,1) rotate(-45)" font-family='"Liberation Sans", Arial, sans-serif' font-size="18" font-weight="bold" text-anchor="end">27</text>
<text transform="translate(1097.42,1146.20) scale(0.78,1) rotate(-45)" font-family='"Liberation Sans", Arial, sans-serif' font-size="18" font-weight="bold" text-anchor="end">28</text>
<text transform="translate(1118.20,1146.20) scale(0.78,1) rotate(-45)" font-family='"Liberation Sans", Arial, sans-serif' font-size="18" font-weight="bold" text-anchor="end">29</text>
<text transform="translate(1138.98,1146.20) scale(0.78,1) rotate(-45)" font-family='"Liberation Sans", Arial, sans-serif' font-size="18" font-weight="bold" text-anchor="end">30</text>
<text transform="translate(1159.77,1146.20) scale(0.78,1) rotate(-45)" font-family='"Liberation Sans", Arial, sans-serif' font-size="18" font-weight="bold" text-anchor="end">31</text>
<text transform="translate(1180.55,1146.20) scale(0.78,1) rotate(-45)" font-family='"Liberation Sans", Arial, sans-serif' font-size="18" font-weight="bold" text-anchor="end">32</text>
<text transform="translate(1201.33,1146.20) scale(0.78,1) rotate(-45)" font-family='"Liberation Sans", Arial, sans-serif' font-size="18" font-weight="bold" text-anchor="end">33</text>
<text transform="translate(1222.11,1146.20) scale(0.78,1) rotate(-45)" font-family='"Liberation Sans", Arial, sans-serif' font-size="18" font-weight="bold" text-anchor="end">34</text>
<text transform="translate(1242.90,1146.20) scale(0.78,1) rotate(-45)" font-family='"Liberation Sans", Arial, sans-serif' font-size="18" font-weight="bold" text-anchor="end">35</text>
<text transform="translate(1263.68,1146.20) scale(0.78,1) rotate(-45)" font-family='"Liberation Sans", Arial, sans-serif' font-size="18" font-weight="bold" text-anchor="end">36</text>
<text transform="translate(1284.46,1146.20) scale(0.78,1) rotate(-45)" font-family='"Liberation Sans", Arial, sans-serif' font-size="18" font-weight="bold" text-anchor="end">37</text>
<text transform="translate(1305.24,1146.20) scale(0.78,1) rotate(-45)" font-family='"Liberation Sans", Arial, sans-serif' font-size="18" font-weight="bold" text-anchor="end">38</text>
<text transform="translate(1326.02,1146.20) scale(0.78,1) rotate(-45)" font-family='"Liberation Sans", Arial, sans-serif' font-size="18" font-weight="bold" text-anchor="end">39</text>
<text transform="translate(1346.81,1146.20) scale(0.78,1) rotate(-45)" font-family='"Liberation Sans", Arial, sans-serif' font-size="18" font-weight="bold" text-anchor="end">40</text>
<text transform="translate(1367.59,1146.20) scale(0.78,1) rotate(-45)" font-family='"Liberation Sans", Arial, sans-serif' font-size="18" font-weight="bold" text-anchor="end">41</text>
<text transform="translate(1388.37,1146.20) scale(0.78,1) rotate(-45)" font-family='"Liberation Sans", Arial, sans-serif' font-size="18" font-weight="bold" text-anchor="end">42</text>
<text transform="translate(1409.15,1146.20) scale(0.78,1) rotate(-45)" font-family='"Liberation Sans", Arial, sans-serif' font-size="18" font-weight="bold" text-anchor="end">43</text>
<text transform="translate(1429.94,1146.20) scale(0.78,1) rotate(-45)" font-family='"Liberation Sans", Arial, sans-serif' font-size="18" font-weight="bold" text-anchor="end">44</text>
<text transform="translate(1450.72,1146.20) scale(0.78,1) rotate(-45)" font-family='"Liberation Sans", Arial, sans-serif' font-size="18" font-weight="bold" text-anchor="end">45</text>
<text transform="translate(1471.50,1146.20) scale(0.78,1) rotate(-45)" font-family='"Liberation Sans", Arial, sans-serif' font-size="18" font-weight="bold" text-anchor="end">46</text>
<text transform="translate(488.00,1162.50) rotate(-90)" font-family='"Liberation Sans", Arial, sans-serif' font-size="22.5" font-weight="normal" textLength="409.5" lengthAdjust="spacingAndGlyphs" stroke="#000" stroke-width="0.65" word-spacing="-2">Absorbance at 405 nm (Sample)</text>
<text transform="translate(1537.40,719.60) rotate(90)" font-family='"Liberation Sans", Arial, sans-serif' font-size="23.2" font-weight="normal" textLength="474.6" lengthAdjust="spacingAndGlyphs" stroke="#000" stroke-width="0.6" word-spacing="-2">Absorbance at 405 nm (Background)</text>
<text transform="translate(872.80,1205.20)" font-family='"Liberation Sans", Arial, sans-serif' font-size="32.4" font-weight="bold" textLength="249.8" lengthAdjust="spacingAndGlyphs">NIE Monoclonal PL1</text>
</g>
</svg>
</body></html>
